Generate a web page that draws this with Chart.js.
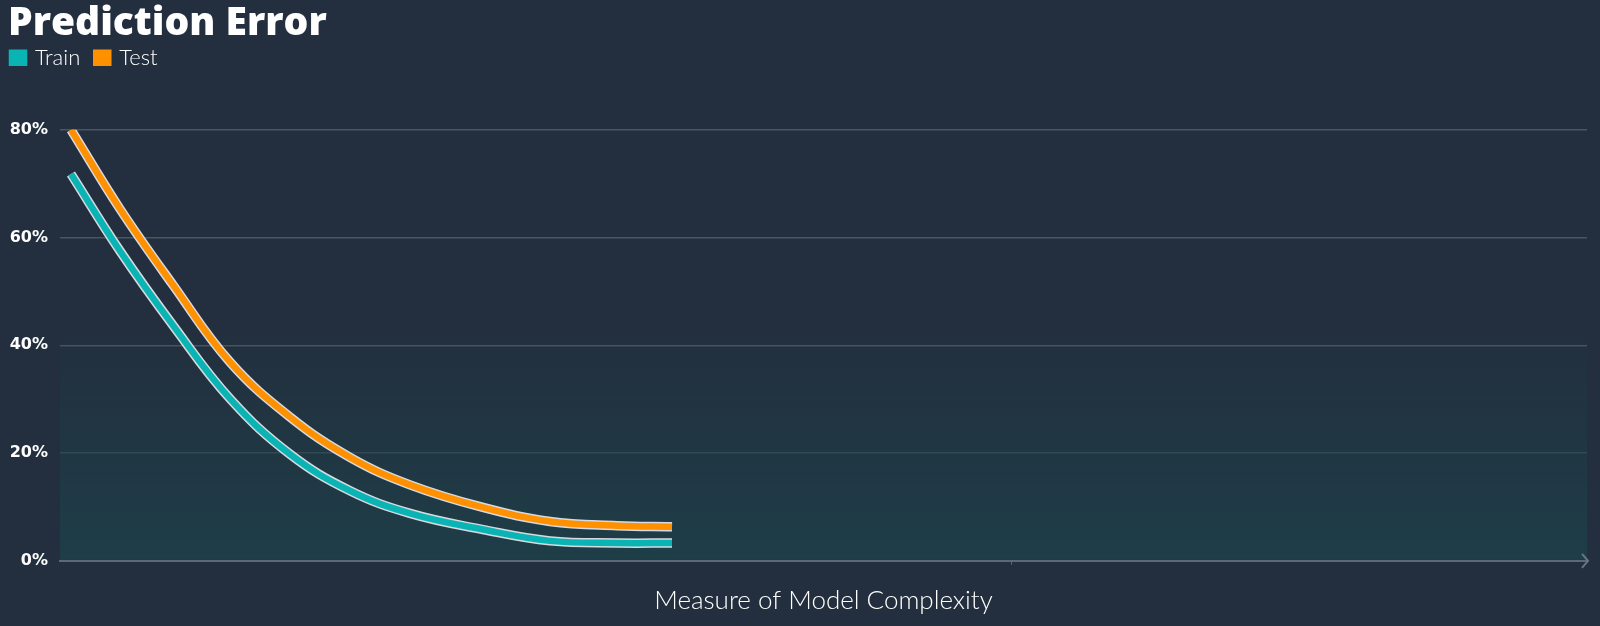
<!DOCTYPE html>
<html>
<head>
<meta charset="utf-8">
<script src="https://cdn.jsdelivr.net/npm/chart.js@4.4.1/dist/chart.umd.min.js"></script>
<style>
  html, body { margin: 0; padding: 0; background: #232f3e; }
  #wrap { width: 1600px; height: 626px; position: relative; }
</style>
</head>
<body>
<div id="wrap"><canvas id="lineChart"></canvas></div>
<script>
// model complexity (x) and error rates (%)
const complexity = [0.72, 3.93, 7.40, 11.13, 15.06, 18.99, 22.92, 27.70, 32.09, 36.48, 40.08];
const trainError = [71.8, 57.5, 43.7, 30.1, 19.8, 13.0, 8.8, 5.8, 3.7, 3.3, 3.3];
const testError = [80.0, 65.3, 51.2, 36.9, 26.7, 19.2, 14.1, 9.9, 7.3, 6.5, 6.3];
const yTicks = [0, 20, 40, 60, 80];
const xTicks = [62.3];

const trainColor = '#0ab4b4';
const testColor = '#ff9000';
const outline = 'rgba(225, 228, 232, 0.95)';

function points(ys) {
    return complexity.map(function(x, i) { return { x: x, y: ys[i] }; });
}

function series(label, ys, color, width, order) {
    return {
        label: label,
        data: points(ys),
        borderColor: color,
        backgroundColor: color,
        borderWidth: width,
        pointRadius: 0,
        fill: false,
        tension: 0.4,
        order: order
    };
}

// soft teal glow at the bottom of the plot area + arrow on the x axis
const decor = {
    id: 'decor',
    beforeInit: function(chart) {
        const fit = chart.legend.fit;
        chart.legend.fit = function() {
            fit.call(this);
            this.height += 35;
        };
    },
    afterLayout: function(chart) {
        // pull the legend up/left so the item gap can stay wide
        chart.legend.left -= 12;
        chart.legend.right -= 12;
        chart.legend.top -= 16;
        chart.legend.bottom -= 16;
    },
    beforeDatasetsDraw: function(chart) {
        const a = chart.chartArea;
        const ctx = chart.ctx;
        const g = ctx.createLinearGradient(0, a.top, 0, a.bottom);
        g.addColorStop(0, 'rgba(30, 62, 72, 0)');
        g.addColorStop(0.45, 'rgba(30, 62, 72, 0)');
        g.addColorStop(1, 'rgba(30, 62, 72, 1)');
        ctx.save();
        ctx.fillStyle = g;
        ctx.fillRect(a.left, a.top, a.right - a.left, a.bottom - a.top - 1);
        ctx.restore();
    },
    afterDraw: function(chart) {
        const a = chart.chartArea;
        const ctx = chart.ctx;
        ctx.save();
        ctx.strokeStyle = '#6b7480';
        ctx.lineWidth = 2;
        ctx.beginPath();
        ctx.moveTo(a.right - 5, a.bottom - 7);
        ctx.lineTo(a.right + 1, a.bottom);
        ctx.lineTo(a.right - 5, a.bottom + 7);
        ctx.stroke();
        ctx.restore();
    }
};

const ctx = document.getElementById('lineChart').getContext('2d');
new Chart(ctx, {
    type: 'line',
    data: {
        datasets: [
            series('Train', trainError, trainColor, 6.5, 1),
            series('Test', testError, testColor, 6.5, 1),
            series('_trainOutline', trainError, outline, 9.5, 2),
            series('_testOutline', testError, outline, 9.5, 2)
        ]
    },
    plugins: [decor],
    options: {
        responsive: true,
        maintainAspectRatio: false,
        animation: false,
        layout: { padding: { left: 8, right: 13, top: 0, bottom: 0 } },
        plugins: {
            tooltip: { enabled: false },
            title: {
                display: true,
                text: 'Prediction Error',
                align: 'start',
                color: '#ffffff',
                font: { family: '"Open Sans"', size: 39, weight: '800' },
                padding: { top: 0, bottom: 0 }
            },
            legend: {
                display: true,
                align: 'start',
                labels: {
                    color: '#ffffff',
                    font: { family: 'Lato', size: 22, weight: '300' },
                    boxWidth: 12,
                    boxHeight: 10,
                    padding: 16,
                    filter: function(item) { return item.text.charAt(0) !== '_'; }
                }
            }
        },
        scales: {
            x: {
                type: 'linear',
                min: 0,
                max: 100,
                afterBuildTicks: function(scale) {
                    scale.ticks = xTicks.map(function(v) { return { value: v }; });
                },
                ticks: { display: false },
                grid: {
                    drawOnChartArea: false,
                    drawTicks: true,
                    tickLength: 4,
                    color: '#5f6874'
                },
                border: { display: true, color: '#5f6874', width: 2 },
                title: {
                    display: true,
                    text: 'Measure of Model Complexity',
                    color: '#ffffff',
                    font: { family: 'Lato', size: 26, weight: '300' },
                    padding: { top: 20, bottom: 10 }
                }
            },
            y: {
                min: 0,
                max: 80,
                afterBuildTicks: function(scale) {
                    scale.ticks = yTicks.map(function(v) { return { value: v }; });
                },
                afterFit: function(scale) { scale.width = 52; },
                ticks: {
                    color: '#ffffff',
                    font: { family: '"DejaVu Sans"', size: 16, weight: 'bold' },
                    padding: 12,
                    callback: function(v) { return v + '%'; }
                },
                grid: { color: '#4b5563', lineWidth: 1.5, drawTicks: false },
                border: { display: false }
            }
        }
    }
});
</script>
</body>
</html>
